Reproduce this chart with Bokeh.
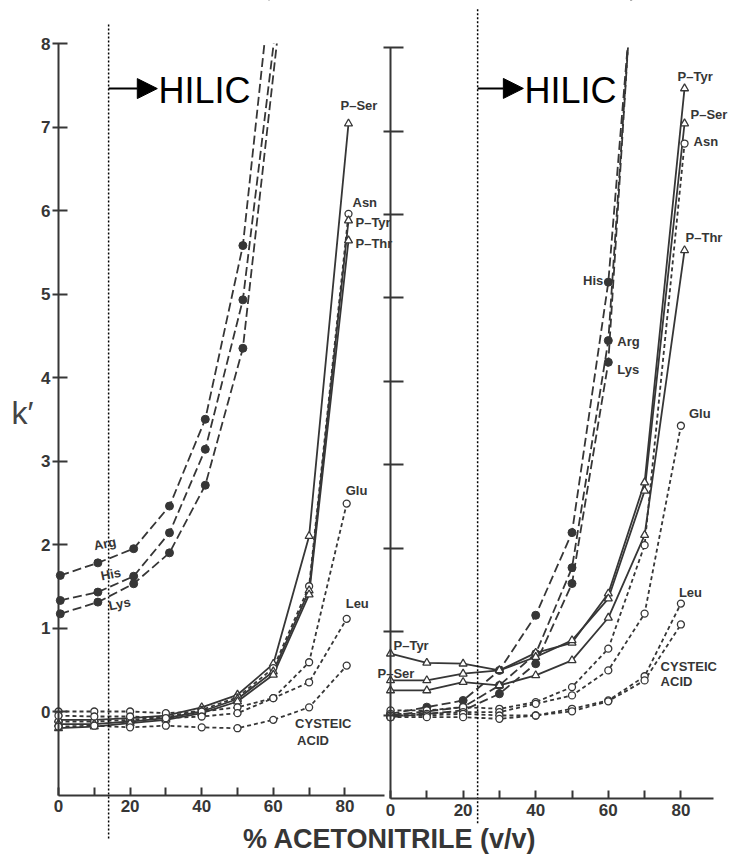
from bokeh.plotting import figure
from bokeh.models import Range1d, LinearAxis, FixedTicker, Arrow, NormalHead
from bokeh.core.properties import value
from bokeh.embed import file_html
from bokeh.resources import INLINE

# ---------------- data: left panel ----------------
pct_basic_l = [0.5, 11, 21, 31, 41, 51.5, 61.5]
arg_l = [1.63, 1.78, 1.95, 2.46, 3.50, 5.58, 9.6]
his_l = [1.33, 1.43, 1.62, 2.14, 3.14, 4.93, 8.5]
lys_l = [1.17, 1.31, 1.53, 1.90, 2.71, 4.35, 8.2]

pct_l = [0, 10, 20, 30, 40, 50, 60, 70, 81]
pser_l = [-0.10, -0.10, -0.08, -0.05, 0.05, 0.20, 0.57, 2.10, 7.04]
asn_l = [-0.12, -0.12, -0.10, -0.07, 0.02, 0.17, 0.52, 1.50, 5.96]
ptyr_l = [-0.15, -0.15, -0.12, -0.08, 0.00, 0.15, 0.48, 1.45, 5.88]
pthr_l = [-0.20, -0.18, -0.14, -0.10, -0.02, 0.12, 0.44, 1.40, 5.64]

pct_l2 = [0, 10, 20, 30, 40, 50, 60, 70, 80.5]
glu_l = [0.00, 0.00, 0.00, -0.02, 0.00, 0.05, 0.16, 0.59, 2.49]
leu_l = [-0.05, -0.06, -0.06, -0.08, -0.06, -0.02, 0.16, 0.35, 1.11]
cys_l = [-0.18, -0.17, -0.19, -0.17, -0.19, -0.20, -0.10, 0.05, 0.55]

# ---------------- data: right panel ----------------
pct_basic_r = [0, 10, 20, 30, 40, 50, 60, 70]
his_r = [0.02, 0.10, 0.18, 0.54, 1.20, 2.19, 5.19, 10.5]
arg_r = [0.00, 0.05, 0.10, 0.36, 0.74, 1.77, 4.49, 11.0]
lys_r = [-0.02, 0.02, 0.06, 0.26, 0.62, 1.58, 4.23, 11.2]

pct_r = [0, 10, 20, 30, 40, 50, 60, 70, 81]
ptyr_r = [0.74, 0.63, 0.62, 0.54, 0.75, 0.87, 1.46, 2.79, 7.51]
pser_r = [0.42, 0.42, 0.50, 0.54, 0.70, 0.90, 1.40, 2.69, 7.09]
asn_r = [0.06, 0.06, 0.10, 0.08, 0.16, 0.34, 0.80, 2.04, 6.85]
pthr_r = [0.30, 0.30, 0.40, 0.36, 0.48, 0.66, 1.17, 2.16, 5.57]

pct_r2 = [0, 10, 20, 30, 40, 50, 60, 70, 80]
glu_r = [0.02, 0.02, 0.04, 0.04, 0.14, 0.24, 0.54, 1.22, 3.47]
leu_r = [0.00, 0.00, 0.02, 0.00, 0.00, 0.08, 0.18, 0.47, 1.34]
cys_r = [-0.02, -0.02, -0.02, -0.04, 0.00, 0.05, 0.17, 0.42, 1.09]

x_ticks = [0, 10, 20, 30, 40, 50, 60, 70, 80]
x_tick_labels = {0: "0", 10: "", 20: "20", 30: "", 40: "40", 50: "", 60: "60", 70: "", 80: "80"}
y_ticks = [0, 1, 2, 3, 4, 5, 6, 7, 8]
hilic_l = 14
hilic_r = 24

INK = "#363636"
FONT = value("Liberation Sans")

p = figure(width=730, height=856, output_backend="svg", toolbar_location=None,
           x_range=Range1d(-16.2, 187.7), y_range=Range1d(-1.7365, 8.515),
           x_axis_type=None, y_axis_type=None, min_border=0)
p.outline_line_color = None
p.background_fill_color = "white"
p.extra_x_ranges = {"r": Range1d(-107.44, 93.66)}
p.extra_y_ranges = {"r": Range1d(-1.689, 8.563)}
R = dict(x_range_name="r", y_range_name="r")
L = dict()

DASH_LONG = "9 4"
DASH_SHORT = "4 3"

series = [
    # x, y, dash, marker, filled, ranges
    (pct_basic_l, arg_l, DASH_LONG, "circle", True, L),
    (pct_basic_l, his_l, DASH_LONG, "circle", True, L),
    (pct_basic_l, lys_l, DASH_LONG, "circle", True, L),
    (pct_l, pser_l, "solid", "triangle", False, L),
    (pct_l, asn_l, DASH_SHORT, "circle", False, L),
    (pct_l, ptyr_l, "solid", "triangle", False, L),
    (pct_l, pthr_l, "solid", "triangle", False, L),
    (pct_l2, glu_l, DASH_SHORT, "circle", False, L),
    (pct_l2, leu_l, DASH_SHORT, "circle", False, L),
    (pct_l2, cys_l, DASH_SHORT, "circle", False, L),
    (pct_basic_r, his_r, DASH_LONG, "circle", True, R),
    (pct_basic_r, arg_r, DASH_LONG, "circle", True, R),
    (pct_basic_r, lys_r, DASH_LONG, "circle", True, R),
    (pct_r, ptyr_r, "solid", "triangle", False, R),
    (pct_r, pser_r, "solid", "triangle", False, R),
    (pct_r, asn_r, DASH_SHORT, "circle", False, R),
    (pct_r, pthr_r, "solid", "triangle", False, R),
    (pct_r2, glu_r, DASH_SHORT, "circle", False, R),
    (pct_r2, leu_r, DASH_SHORT, "circle", False, R),
    (pct_r2, cys_r, DASH_SHORT, "circle", False, R),
]

# 1. lines
for xs, ys, dash, mk, filled, rng in series:
    p.line(xs, ys, line_color=INK, line_width=1.8, line_dash=dash, **rng)

# 2. mask above k' = 8 (chart frame top)
p.quad(left=[-16.2], right=[92.2], bottom=[8], top=[9], fill_color="white", line_color=None)
p.quad(left=[0], right=[93.66], bottom=[8], top=[9], fill_color="white", line_color=None, **R)

# 3. markers (only points on scale)
for xs, ys, dash, mk, filled, rng in series:
    px = [x for x, y in zip(xs, ys) if y <= 8]
    py = [y for y in ys if y <= 8]
    if filled:
        p.scatter(px, py, marker=mk, size=8, fill_color=INK, line_color=INK, **rng)
    else:
        p.scatter(px, py, marker=mk, size=8 if mk == "triangle" else 7,
                  fill_color="white", line_color=INK, line_width=1.3, **rng)

# 4. HILIC boundaries
p.segment(x0=[hilic_l], y0=[-1.52], x1=[hilic_l], y1=[8.24],
          line_color="black", line_width=1.5, line_dash="2 2")
p.segment(x0=[hilic_r], y0=[-1.29], x1=[hilic_r], y1=[8.48],
          line_color="black", line_width=1.5, line_dash="2 2", **R)

p.add_layout(Arrow(x_start=hilic_l, y_start=7.46, x_end=27.6, y_end=7.46,
                   end=NormalHead(size=20, fill_color="black", line_color="black"),
                   line_color="black", line_width=2))
p.add_layout(Arrow(x_start=hilic_r, y_start=7.51, x_end=36.6, y_end=7.51,
                   end=NormalHead(size=20, fill_color="black", line_color="black"),
                   line_color="black", line_width=2, **R))
p.text(x=[27.9], y=[7.437], text=["HILIC"], text_font=FONT, text_font_size="36px",
       text_color="black", text_baseline="middle", text_align="left")
p.text(x=[36.9], y=[7.485], text=["HILIC"], text_font=FONT, text_font_size="36px",
       text_color="black", text_baseline="middle", text_align="left", **R)

# 5. series labels: (x, y, text, dx, dy, align, angle, ranges)
labels = [
    (pct_l[-1], pser_l[-1], "P\u2013Ser", -8, -18, "left", 0, L),
    (pct_l[-1], asn_l[-1], "Asn", 4, -11, "left", 0, L),
    (pct_l[-1], ptyr_l[-1], "P\u2013Tyr", 7, 2, "left", 0, L),
    (pct_l[-1], pthr_l[-1], "P\u2013Thr", 7, 3, "left", 0, L),
    (pct_l2[-1], glu_l[-1], "Glu", -1, -13, "left", 0, L),
    (pct_l2[-1], leu_l[-1], "Leu", -1, -15, "left", 0, L),
    (pct_l2[7], cys_l[7], "CYSTEIC", -14, 16, "left", 0, L),
    (pct_l2[7], cys_l[7], "ACID", -12, 33, "left", 0, L),
    (pct_basic_l[1], arg_l[1], "Arg", -4, -17, "left", 0.2, L),
    (pct_basic_l[1], his_l[1], "His", 3, -16, "left", 0.2, L),
    (pct_basic_l[1], lys_l[1], "Lys", 11, 4, "left", 0.2, L),
    (pct_r[-1], ptyr_r[-1], "P\u2013Tyr", -7, -12, "left", 0, R),
    (pct_r[-1], pser_r[-1], "P\u2013Ser", 6, -9, "left", 0, R),
    (pct_r[-1], asn_r[-1], "Asn", 9, -2, "left", 0, R),
    (pct_r[-1], pthr_r[-1], "P\u2013Thr", 1, -13, "left", 0, R),
    (pct_r2[-1], glu_r[-1], "Glu", 8, -12, "left", 0, R),
    (pct_basic_r[6], arg_r[6], "Arg", 9, 1, "left", 0, R),
    (pct_basic_r[6], lys_r[6], "Lys", 9, 7, "left", 0, R),
    (pct_r2[-1], leu_r[-1], "Leu", -2, -11, "left", 0, R),
    (pct_r2[7], cys_r[7], "CYSTEIC", 16, -14, "left", 0, R),
    (pct_r2[7], cys_r[7], "ACID", 16, 1, "left", 0, R),
    (pct_r[0], ptyr_r[0], "P\u2013Tyr", 3, -8, "left", 0, R),
    (pct_r[0], pser_r[0], "P\u2013Ser", -13, -7, "left", 0, R),
    (pct_basic_r[6], his_r[6], "His", -5, -2, "right", 0, R),
]
for x, y, t, dx, dy, al, ang, rng in labels:
    p.text(x=[x], y=[y], text=[t], x_offset=dx, y_offset=dy, angle=ang,
           text_align=al, text_baseline="middle", text_font=FONT,
           text_font_style="bold", text_font_size="13px", text_color=INK, **rng)

# axis titles
p.text(x=[-10.06], y=[3.57], text=["k\u2032"], text_font=FONT, text_font_size="32px",
       text_color="#444444", text_align="center", text_baseline="middle")
p.text(x=[92.5], y=[-1.527], text=["% ACETONITRILE (v/v)"], text_font=FONT,
       text_font_style="bold", text_font_size="27px", text_color=INK,
       text_align="center", text_baseline="middle")

# 6. axes
def style_axis(ax):
    ax.axis_line_color = INK
    ax.axis_line_width = 2
    ax.major_tick_line_color = INK
    ax.major_tick_line_width = 2
    ax.minor_tick_line_color = None
    ax.major_label_text_font = "Liberation Sans"
    ax.major_label_text_font_style = "bold"
    ax.major_label_text_font_size = "17px"
    ax.major_label_text_color = INK

yl = LinearAxis(fixed_location=0, bounds=(-1, 8), ticker=FixedTicker(ticks=y_ticks))
style_axis(yl)
yl.major_tick_in = 9
yl.major_tick_out = 6
yl.major_label_standoff = 2
p.add_layout(yl, "left")

xl = LinearAxis(fixed_location=-1, bounds=(0, 91), ticker=FixedTicker(ticks=x_ticks),
                major_label_overrides=x_tick_labels)
style_axis(xl)
xl.major_tick_in = 8
xl.major_tick_out = 0
xl.major_label_standoff = 5
p.add_layout(xl, "below")

yr = LinearAxis(fixed_location=0, bounds=(-1, 8), ticker=FixedTicker(ticks=y_ticks), **R)
style_axis(yr)
yr.major_tick_in = 13
yr.major_tick_out = 7
yr.major_label_text_color = None
p.add_layout(yr, "left")

xr = LinearAxis(fixed_location=-1, bounds=(0, 89), ticker=FixedTicker(ticks=x_ticks),
                major_label_overrides=x_tick_labels, **R)
style_axis(xr)
xr.major_tick_in = 8
xr.major_tick_out = 0
xr.major_label_standoff = 5
p.add_layout(xr, "below")

open("out.html", "w").write(file_html(p, INLINE))
